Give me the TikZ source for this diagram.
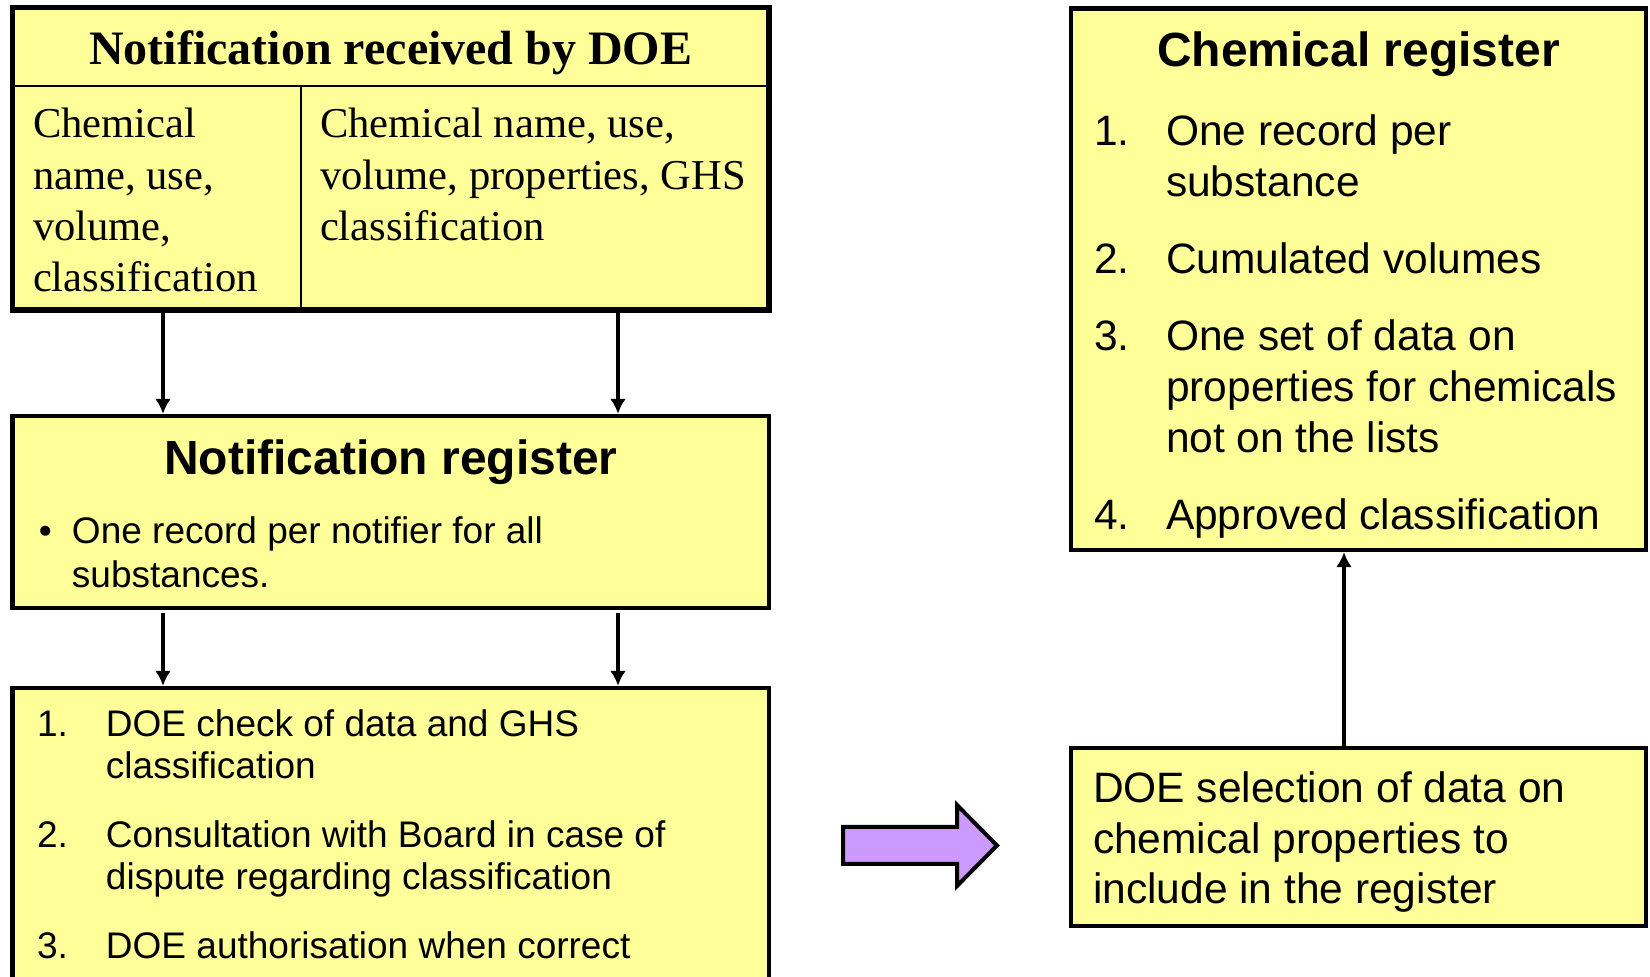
\documentclass[tikz,border=0pt]{standalone}
\usepackage{fontspec}
\setmainfont{Liberation Serif}
\setsansfont{Liberation Sans}
\usetikzlibrary{arrows.meta,positioning}

\definecolor{boxyellow}{HTML}{FFFF99}
\definecolor{arrowviolet}{HTML}{CC99FF}

\tikzset{
  box/.style={draw, fill=boxyellow, line width=2.2pt, inner sep=0pt, outer sep=0pt, anchor=north west},
  txt/.style={inner sep=0pt, outer sep=0pt, anchor=base west},
  flow/.style={line width=1.6pt, -{Latex[length=7.5pt,width=8pt]}, shorten >=1.1pt},
  rmhead/.style={txt, anchor=base, font=\fontsize{24}{28}\selectfont\rmfamily\bfseries},
  rmbody/.style={txt, font=\fontsize{21.3}{25.6}\selectfont\rmfamily},
  sfhead/.style={txt, anchor=base, font=\fontsize{24}{28}\selectfont\sffamily\bfseries},
  sfsmall/.style={txt, font=\fontsize{18.5}{21}\selectfont\sffamily},
  sfbody/.style={txt, font=\fontsize{21.25}{25.5}\selectfont\sffamily}
}

\begin{document}
\begin{tikzpicture}[x=0.5pt, y=-0.5pt]
\useasboundingbox (0,0) rectangle (1650,977);

% boxes
\node[box, line width=2.6pt, minimum width=378.2pt, minimum height=151.3pt] (notice) at (12.6,7.4) {};
\node[box, minimum width=378.2pt, minimum height=96pt] (notereg) at (12.6,416) {};
\node[box, minimum width=378.2pt, minimum height=170pt] (check) at (12.6,688) {};
\node[box, minimum width=287.5pt, minimum height=270.8pt] (chemreg) at (1071,8.4) {};
\node[box, minimum width=287.5pt, minimum height=89pt] (select) at (1071,748) {};

% split of the notification box
\coordinate (hdr) at (0,86);
\coordinate (split) at (301,0);
\draw[line width=1pt] (notice.west |- hdr) -- (notice.east |- hdr);
\draw[line width=1pt] (hdr -| split) -- (notice.south -| split);

% texts
\node[rmhead] (noticetitle) at (390.8,65) {Notification received by DOE};
\node[rmbody] (leftcol) at (33,138) {\begin{tabular}[t]{@{}l@{}}
Chemical\\ name, use,\\ volume,\\ classification
\end{tabular}};
\node[rmbody] (rightcol) at (320,138) {\begin{tabular}[t]{@{}l@{}}
Chemical name, use,\\ volume, properties, GHS\\ classification
\end{tabular}};

\node[sfhead] (noteregtitle) at (390.8,474.5) {Notification register};
\node[sfsmall, font=\fontsize{18.5}{22}\selectfont\sffamily] (notereglist) at (39,543.5) {\begin{tabular}[t]{@{}p{16.5pt}@{}l@{}}
\textbullet & One record per notifier for all\\
 & substances.
\end{tabular}};

\node[sfsmall] (checklist) at (37,736.6) {\begin{tabular}[t]{@{}p{34.5pt}@{}l@{}}
1. & DOE check of data and GHS\\
 & classification\\[13.5pt]
2. & Consultation with Board in case of\\
 & dispute regarding classification\\[13.5pt]
3. & DOE authorisation when correct
\end{tabular}};

\node[sfhead] (chemregtitle) at (1358.5,66.5) {Chemical register};
\node[sfbody] (chemreglist) at (1094,146) {\begin{tabular}[t]{@{}p{36pt}@{}l@{}}
1. & One record per\\
 & substance\\[13pt]
2. & Cumulated volumes\\[13pt]
3. & One set of data on\\
 & properties for chemicals\\
 & not on the lists\\[13pt]
4. & Approved classification
\end{tabular}};

\node[sfbody, font=\fontsize{21.25}{25.25}\selectfont\sffamily] (selecttext) at (1093,803) {\begin{tabular}[t]{@{}l@{}}
DOE selection of data on\\
chemical properties to\\
include in the register
\end{tabular}};

% connectors
\coordinate (colA) at (163,0);
\coordinate (colB) at (618,0);
\coordinate (colC) at (1344,0);
\draw[flow] (notice.south -| colA) -- (notereg.north -| colA);
\draw[flow] (notice.south -| colB) -- (notereg.north -| colB);
\draw[flow, shorten <=2.5pt] (notereg.south -| colA) -- (check.north -| colA);
\draw[flow, shorten <=2.5pt] (notereg.south -| colB) -- (check.north -| colB);
\draw[flow] (select.north -| colC) -- (chemreg.south -| colC);

% block arrow
\draw[line width=2pt, fill=arrowviolet] (843,827) -- (957,827) -- (957,805) -- (997,845.5)
  -- (957,886) -- (957,864) -- (843,864) -- cycle;
\end{tikzpicture}
\end{document}
